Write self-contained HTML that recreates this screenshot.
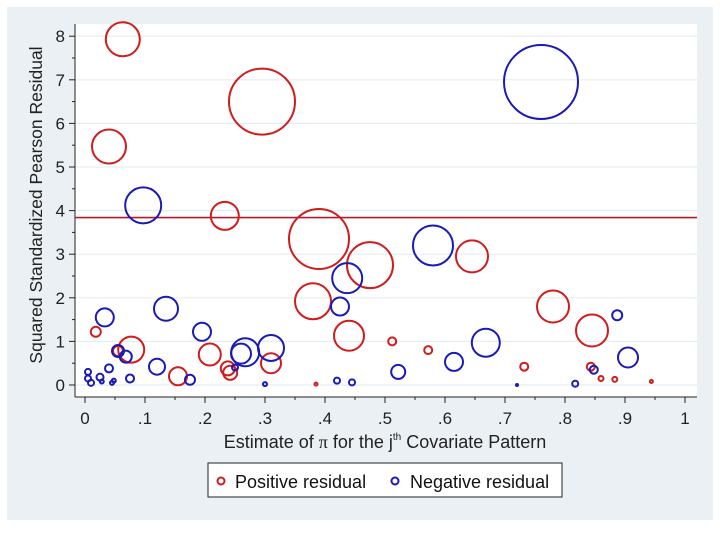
<!DOCTYPE html>
<html><head><meta charset="utf-8"><style>
body{margin:0;background:#fff;}
svg{display:block;font-family:"Liberation Sans",sans-serif;}
</style></head><body>
<svg id="chart" width="720" height="540" viewBox="0 0 720 540">
<rect x="7" y="7" width="706" height="513" fill="#eaf0f3"/>
<rect x="75" y="24" width="622" height="373" fill="#fff"/>
<g id="grid"></g>
<g id="axes"></g>
<g id="marks"></g>
<text transform="translate(42,205) rotate(-90)" text-anchor="middle" font-size="17.5" fill="#222">Squared Standardized Pearson Residual</text>
<text x="385" y="448" text-anchor="middle" font-size="18" fill="#222">Estimate of <tspan font-family="Liberation Serif">π</tspan> for the j<tspan font-size="10" dy="-8">th</tspan><tspan dy="8"> Covariate Pattern</tspan></text>
<g>
<rect x="208" y="463" width="354" height="34" fill="#fff" stroke="#222" stroke-width="1"/>
<circle cx="221" cy="481" r="3.5" fill="none" stroke="#d01c1c" stroke-width="2"/>
<text x="235" y="488" font-size="18" fill="#111">Positive residual</text>
<circle cx="395" cy="481" r="3.5" fill="none" stroke="#1a1ab8" stroke-width="2"/>
<text x="410" y="488" font-size="18" fill="#111">Negative residual</text>
</g>
</svg>
<script>
const xTicks=[0,0.1,0.2,0.3,0.4,0.5,0.6,0.7,0.8,0.9,1];
const xTickLabels=["0",".1",".2",".3",".4",".5",".6",".7",".8",".9","1"];
const yTicks=[0,1,2,3,4,5,6,7,8];
const yTickLabels=["0","1","2","3","4","5","6","7","8"];
const cutoff=3.84;
const posX=[0.063,0.04,0.295,0.233,0.39,0.475,0.645,0.38,0.44,0.78,0.845,0.018,0.077,0.208,0.155,0.238,0.242,0.31,0.512,0.572,0.732,0.843,0.86,0.883,0.944,0.385,0.055];
const posY=[7.93,5.47,6.5,3.88,3.35,2.75,2.95,1.92,1.13,1.8,1.25,1.22,0.81,0.7,0.2,0.38,0.28,0.5,1.0,0.8,0.42,0.42,0.15,0.13,0.08,0.02,0.78];
const posSize=[17,17,33,14,30,23,16,18,15,16,16,5,13,11,9,7,7,10,4,4,4,4,2.5,2.5,1.5,1.5,5];
const negX=[0.76,0.097,0.58,0.437,0.135,0.033,0.195,0.425,0.887,0.31,0.267,0.26,0.668,0.905,0.615,0.522,0.12,0.068,0.055,0.04,0.075,0.025,0.005,0.005,0.01,0.028,0.048,0.045,0.175,0.25,0.3,0.42,0.445,0.72,0.817,0.848];
const negY=[6.95,4.12,3.2,2.45,1.75,1.55,1.22,1.8,1.6,0.85,0.75,0.72,0.97,0.63,0.53,0.3,0.42,0.65,0.78,0.38,0.15,0.18,0.3,0.15,0.05,0.08,0.1,0.05,0.12,0.4,0.02,0.1,0.06,0.0,0.03,0.35];
const negSize=[37,18,20,15,12,9,9,9,5,13,14,10,14,10,9,7,8,6,6,4,4,3.5,3,3,3,2,2,2,5,3,2,3,3,1,3,4];
const NS="http://www.w3.org/2000/svg";
function sx(v){return 85+600*v;}
function sy(v){return 385-43.6*v;}
function mk(tag,attrs,parent){const e=document.createElementNS(NS,tag);for(const k in attrs)e.setAttribute(k,attrs[k]);parent.appendChild(e);return e;}
const grid=document.getElementById('grid'),axes=document.getElementById('axes'),marks=document.getElementById('marks');
yTicks.forEach((t,i)=>{
  const g=mk('line',{x1:75,x2:697,y1:sy(t),y2:sy(t),stroke:'#e6edf1','stroke-width':1.2},grid);
  
  
  const tk=mk('line',{x1:69,x2:75,y1:sy(t),y2:sy(t),stroke:'#222'},axes);
  
  
  if(i<yTicks.length-1){const m=mk('line',{x1:72,x2:75,y1:sy(t+0.5),y2:sy(t+0.5),stroke:'#222'},axes);
  
  }
  const tx=mk('text',{x:65,y:sy(t)+6,'text-anchor':'end','font-size':17,fill:'#222'},axes);
  tx.textContent=yTickLabels[i];
  
  
});
xTicks.forEach((t,i)=>{
  const tk=mk('line',{x1:sx(t),x2:sx(t),y1:397,y2:403,stroke:'#222'},axes);
  
  
  if(i<xTicks.length-1){const m=mk('line',{x1:sx(t+0.05),x2:sx(t+0.05),y1:397,y2:400,stroke:'#222'},axes);
  
  }
  const tx=mk('text',{x:sx(t),y:424,'text-anchor':'middle','font-size':17,fill:'#222'},axes);
  tx.textContent=xTickLabels[i];
  
  
});
const ya=mk('line',{x1:75,x2:75,y1:24,y2:397,stroke:'#222'},axes);


const xa=mk('line',{x1:75,x2:697,y1:397,y2:397,stroke:'#222'},axes);


const cl=mk('line',{x1:75,x2:697,y1:sy(cutoff),y2:sy(cutoff),stroke:'#b01c2a','stroke-width':1.6},marks);


posX.forEach((x,i)=>{
  const c=mk('circle',{cx:sx(x),cy:sy(posY[i]),r:posSize[i],fill:'none',stroke:'#d01c1c','stroke-width':2},marks);
  
  
});
negX.forEach((x,i)=>{
  const c=mk('circle',{cx:sx(x),cy:sy(negY[i]),r:negSize[i],fill:'none',stroke:'#1a1ab8','stroke-width':2},marks);
  
  
});
</script>
</body></html>
